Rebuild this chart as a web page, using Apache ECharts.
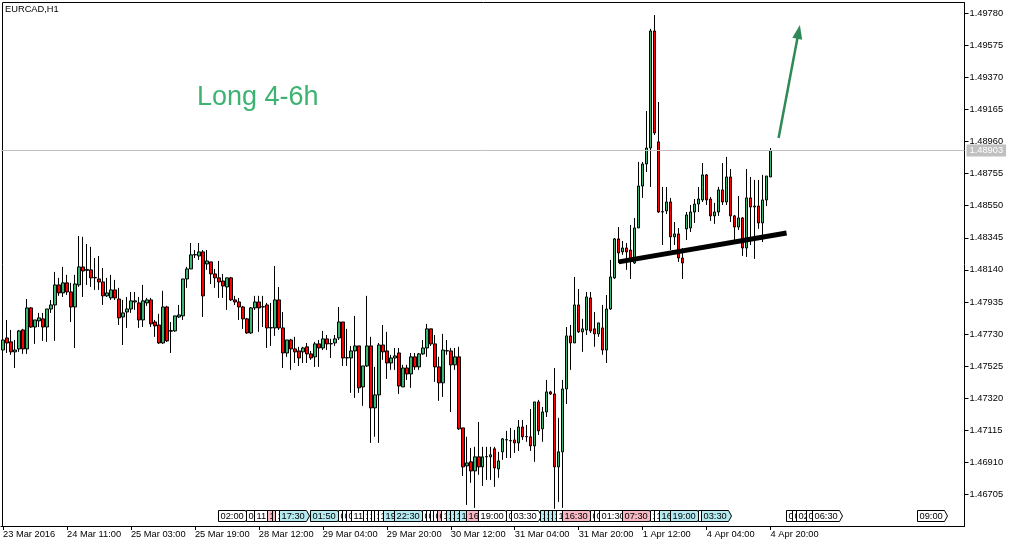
<!DOCTYPE html>
<html><head><meta charset="utf-8">
<script src="https://cdn.jsdelivr.net/npm/echarts@6/dist/echarts.min.js"></script>
<style>html,body{margin:0;padding:0;background:#fff;}#chart{width:1017px;height:547px;}</style>
</head><body><div id="chart"></div>
<script>
// ---- data ----
const symbolTitle = 'EURCAD,H1';
const timeLabels = ['23 Mar 2016','24 Mar 11:00','25 Mar 03:00','25 Mar 19:00','28 Mar 12:00','29 Mar 04:00','29 Mar 20:00','30 Mar 12:00','31 Mar 04:00','31 Mar 20:00','1 Apr 12:00','4 Apr 04:00','4 Apr 20:00'];
const priceTicks = [1.49780,1.49575,1.49370,1.49165,1.48960,1.48755,1.48550,1.48345,1.48140,1.47935,1.47730,1.47525,1.47320,1.47115,1.46910,1.46705];
const priceMin = 1.46503, priceMax = 1.49849;
const currentPrice = 1.48903;
// [open, close, low, high]
const bars = [
[1.47628,1.47692,1.47513,1.47737],[1.47705,1.47673,1.47609,1.47820],[1.47680,1.47616,1.47597,1.47756],[1.47616,1.47628,1.47513,1.47692],
[1.47635,1.47750,1.47616,1.47756],[1.47756,1.47635,1.47603,1.47763],[1.47635,1.47897,1.47603,1.47954],[1.47897,1.47775,1.47769,1.47903],
[1.47775,1.47820,1.47667,1.47820],[1.47814,1.47833,1.47775,1.47865],[1.47827,1.47775,1.47686,1.47865],[1.47775,1.47890,1.47680,1.47890],
[1.47890,1.47916,1.47865,1.47948],[1.47916,1.48044,1.47686,1.48127],[1.48044,1.47993,1.47974,1.48089],[1.47993,1.48057,1.47967,1.48159],
[1.48057,1.47999,1.47980,1.48108],[1.47999,1.47903,1.47807,1.48057],[1.47903,1.48050,1.47641,1.48108],[1.48044,1.48159,1.48031,1.48357],
[1.48159,1.48133,1.47967,1.48351],[1.48137,1.48143,1.48044,1.48306],[1.48140,1.48089,1.48031,1.48287],[1.48089,1.48092,1.48012,1.48216],
[1.48082,1.48063,1.48012,1.48229],[1.48063,1.47974,1.47916,1.48152],[1.47974,1.47993,1.47967,1.48089],[1.47961,1.48012,1.47948,1.48108],
[1.48012,1.47961,1.47948,1.48076],[1.47954,1.47833,1.47788,1.48025],[1.47839,1.47865,1.47660,1.47948],[1.47871,1.47890,1.47769,1.47967],
[1.47890,1.47942,1.47865,1.47999],[1.47935,1.47942,1.47884,1.47999],[1.47929,1.47820,1.47769,1.47967],[1.47820,1.47942,1.47775,1.48044],
[1.47929,1.47948,1.47910,1.47961],[1.47948,1.47795,1.47775,1.47961],[1.47807,1.47782,1.47712,1.47820],[1.47788,1.47673,1.47667,1.47859],
[1.47673,1.47903,1.47667,1.48006],[1.47903,1.47686,1.47680,1.47910],[1.47748,1.47752,1.47609,1.47807],[1.47750,1.47846,1.47744,1.47846],
[1.47839,1.47852,1.47833,1.47916],[1.47846,1.48082,1.47820,1.48082],[1.48082,1.48146,1.48025,1.48159],[1.48146,1.48236,1.48146,1.48312],
[1.48236,1.48238,1.48216,1.48267],[1.48229,1.48255,1.48204,1.48312],[1.48255,1.47974,1.47839,1.48267],[1.48178,1.48197,1.48140,1.48267],
[1.48191,1.48114,1.48050,1.48191],[1.48114,1.48089,1.48025,1.48146],[1.48089,1.48063,1.47961,1.48197],[1.48069,1.48037,1.47961,1.48114],
[1.48031,1.48089,1.47884,1.48089],[1.48089,1.47948,1.47942,1.48095],[1.47948,1.47935,1.47916,1.47974],[1.47935,1.47903,1.47820,1.47961],
[1.47903,1.47827,1.47763,1.47910],[1.47827,1.47737,1.47731,1.47833],[1.47737,1.47897,1.47731,1.47903],[1.47897,1.47935,1.47884,1.47974],
[1.47935,1.47897,1.47744,1.47974],[1.47903,1.47905,1.47775,1.47974],[1.47916,1.47769,1.47641,1.47929],[1.47769,1.47771,1.47654,1.47929],
[1.47769,1.47948,1.47718,1.48165],[1.47948,1.47769,1.47756,1.48031],[1.47769,1.47609,1.47513,1.47871],[1.47609,1.47692,1.47584,1.47692],
[1.47692,1.47635,1.47501,1.47699],[1.47635,1.47616,1.47545,1.47712],[1.47622,1.47577,1.47526,1.47648],[1.47616,1.47641,1.47545,1.47648],
[1.47648,1.47603,1.47545,1.47673],[1.47603,1.47577,1.47565,1.47622],[1.47584,1.47667,1.47520,1.47680],[1.47667,1.47641,1.47520,1.47692],
[1.47641,1.47699,1.47628,1.47750],[1.47699,1.47667,1.47628,1.47724],[1.47667,1.47669,1.47577,1.47699],[1.47673,1.47699,1.47654,1.47724],
[1.47705,1.47807,1.47692,1.47903],[1.47807,1.47577,1.47526,1.47807],[1.47577,1.47579,1.47526,1.47763],[1.47577,1.47622,1.47354,1.47654],
[1.47622,1.47654,1.47322,1.47846],[1.47654,1.47386,1.47354,1.47654],[1.47392,1.47526,1.47271,1.47526],[1.47526,1.47654,1.47520,1.47974],
[1.47654,1.47258,1.47034,1.47712],[1.47258,1.47341,1.47073,1.47520],[1.47341,1.47660,1.47034,1.47673],[1.47660,1.47616,1.47565,1.47788],
[1.47622,1.47545,1.47443,1.47744],[1.47545,1.47577,1.47501,1.47597],[1.47577,1.47590,1.47501,1.47641],[1.47609,1.47398,1.47347,1.47641],
[1.47392,1.47513,1.47392,1.47533],[1.47513,1.47475,1.47437,1.47533],[1.47475,1.47584,1.47386,1.47609],[1.47584,1.47520,1.47501,1.47609],
[1.47520,1.47603,1.47501,1.47609],[1.47603,1.47641,1.47597,1.47692],[1.47641,1.47763,1.47584,1.47795],[1.47763,1.47667,1.47654,1.47763],
[1.47667,1.47520,1.47424,1.47724],[1.47520,1.47418,1.47303,1.47584],[1.47418,1.47628,1.47328,1.47731],[1.47622,1.47624,1.47597,1.47692],
[1.47622,1.47533,1.47232,1.47641],[1.47533,1.47584,1.47501,1.47641],[1.47584,1.47124,1.47117,1.47648],[1.47130,1.46881,1.46823,1.47130],
[1.46887,1.46906,1.46638,1.47073],[1.46913,1.46855,1.46779,1.47002],[1.46855,1.46945,1.46619,1.47009],[1.46945,1.46881,1.46830,1.47168],
[1.46881,1.46945,1.46759,1.47009],[1.46945,1.46947,1.46798,1.47009],[1.46945,1.46958,1.46798,1.47009],[1.46996,1.46874,1.46753,1.47009],
[1.46868,1.46919,1.46811,1.46977],[1.46977,1.47060,1.46926,1.47066],[1.47053,1.47055,1.46938,1.47111],[1.47047,1.47049,1.46938,1.47130],
[1.47053,1.47034,1.46970,1.47117],[1.47034,1.47136,1.46983,1.47181],[1.47136,1.47073,1.47053,1.47181],[1.47073,1.47075,1.47041,1.47149],
[1.47073,1.47015,1.46983,1.47251],[1.47015,1.47296,1.46913,1.47296],[1.47296,1.47111,1.47085,1.47309],[1.47124,1.47232,1.47041,1.47264],
[1.47232,1.47360,1.47200,1.47437],[1.47360,1.47347,1.47341,1.47367],[1.47347,1.46881,1.46613,1.47513],[1.46881,1.46977,1.46657,1.47194],
[1.46977,1.47379,1.46619,1.47437],[1.47379,1.47718,1.47283,1.47775],[1.47718,1.47673,1.47501,1.47788],[1.47673,1.47916,1.47673,1.48095],
[1.47916,1.47744,1.47737,1.48018],[1.47744,1.47763,1.47616,1.47827],[1.47756,1.47967,1.47724,1.47999],[1.47961,1.47750,1.47737,1.47999],
[1.47763,1.47731,1.47648,1.47871],[1.47731,1.47801,1.47712,1.47801],[1.47769,1.47628,1.47597,1.47916],[1.47628,1.47890,1.47545,1.47980],
[1.47890,1.48095,1.47884,1.48204],[1.48089,1.48338,1.48082,1.48344],[1.48338,1.48248,1.48184,1.48414],[1.48255,1.48280,1.48236,1.48325],
[1.48280,1.48255,1.48140,1.48312],[1.48267,1.48204,1.48082,1.48427],[1.48184,1.48408,1.48178,1.48472],[1.48408,1.48676,1.48408,1.48830],
[1.48676,1.48817,1.48600,1.48830],[1.48817,1.48919,1.48766,1.49156],[1.48919,1.49667,1.48670,1.49680],[1.49667,1.49015,1.49002,1.49769],
[1.48958,1.48510,1.48504,1.49213],[1.48510,1.48512,1.48299,1.48670],[1.48517,1.48574,1.48497,1.48670],[1.48574,1.48351,1.48267,1.48600],
[1.48351,1.48370,1.48299,1.48446],[1.48370,1.48216,1.48191,1.48408],[1.48216,1.48184,1.48082,1.48280],[1.48402,1.48491,1.48331,1.48510],
[1.48408,1.48510,1.48382,1.48555],[1.48510,1.48561,1.48440,1.48593],[1.48561,1.48593,1.48510,1.48670],[1.48587,1.48747,1.48574,1.48823],
[1.48747,1.48587,1.48555,1.48753],[1.48593,1.48485,1.48453,1.48606],[1.48485,1.48510,1.48434,1.48568],[1.48510,1.48651,1.48485,1.48670],
[1.48651,1.48574,1.48555,1.48823],[1.48574,1.48734,1.48555,1.48862],[1.48734,1.48485,1.48446,1.48785],[1.48485,1.48414,1.48312,1.48491],
[1.48414,1.48472,1.48395,1.48612],[1.48472,1.48280,1.48229,1.48478],[1.48280,1.48600,1.48223,1.48785],[1.48600,1.48542,1.48299,1.48734],
[1.48542,1.48548,1.48210,1.48715],[1.48548,1.48440,1.48402,1.48715],[1.48440,1.48587,1.48318,1.48747],[1.48587,1.48740,1.48548,1.48740],
[1.48734,1.48903,1.48734,1.48919]
];
const futureSlots = 48;
// calendar event markers along the bottom (bar index position, text, kind)
const eventPos  = [53.95,60.9,63.0,66.05,67.3,68.1,69.1,76.9,83.8,84.8,85.9,87.05,90.2,91.2,92.1,93.0,94.0,95.1,97.95,105,106,106.9,107.8,108.8,109.6,111,112,113,114.1,116.05,119,125.9,127.1,134.4,135.4,136.4,137.4,138.4,140.05,146.9,147.9,149.1,154.95,161.9,162.9,164.1,166.9,173.9,174.8,195.9,197.5,198.5,201,202.4,228.8];
const eventText = ['02:00','03:00','11:00','12:30','13:00','14:00','17:30','01:50','08:00','08:30','09:00','11:00','12:00','12:30','13:00','13:30','14:00','19:00','22:30','05:00','06:00','07:00','08:00','09:00','10:00','11:00','12:00','13:00','14:00','16:00','19:00','02:00','03:30','10:00','11:00','12:00','13:00','14:00','16:30','00:00','00:30','01:30','07:30','14:00','15:00','16:00','19:00','03:00','03:30','00:00','01:00','02:00','05:00','06:30','09:00'];
const eventKind = ['w','w','w','p','p','w','c','c','w','w','w','w','w','w','w','w','w','c','c','w','w','w','w','p','w','c','c','c','c','p','w','w','w','c','c','c','c','w','p','w','w','w','p','w','w','c','c','w','c','w','w','w','w','w','w'];
// drawn objects
const trendLine = [[154, 1.48191], [196, 1.48376]];
const signalArrow = [[194, 1.48983], [199, 1.49661]];
const signalText = 'Long 4-6h';

// ---- chart ----
const FONT = '"Liberation Sans", Arial, sans-serif';
const bullColor = '#3cb371', bearColor = '#ff0000';
const kindColor = { w: '#ffffff', c: '#b4eaf0', p: '#f6b8c2' };
const totalSlots = bars.length + futureSlots;
const xCategories = [];
for (let i = 0; i < totalSlots; i++) xCategories.push(String(i));

const mctx = document.createElement('canvas').getContext('2d');
mctx.font = '9.3px ' + FONT;

function renderEvent(params, api) {
  const k = params.dataIndex;
  const pos = eventPos[k];
  const base = Math.floor(pos);
  const band = api.size([1, 0])[0];
  const x = Math.round(api.coord([base, priceMin])[0] - 0.5 + (pos - base) * band) + 0.5;
  const cs = params.coordSys;
  const bottom = cs.y + cs.height;
  const top = Math.floor(bottom - 16) + 0.5;
  const h = 11;
  const w = Math.ceil(mctx.measureText(eventText[k]).width) + 3;
  return {
    type: 'group',
    children: [
      { type: 'polygon', shape: { points: [[x, top], [x + w, top], [x + w + 3, top + h / 2], [x + w, top + h], [x, top + h]] },
        style: { fill: kindColor[eventKind[k]], stroke: '#000', lineWidth: 1 } },
      { type: 'text', style: { x: x + 2, y: top + h / 2 + 0.5, text: eventText[k], font: '9.3px ' + FONT, fill: '#000', verticalAlign: 'middle', align: 'left' } }
    ]
  };
}

const chart = echarts.init(document.getElementById('chart'), null, { renderer: 'canvas' });
chart.setOption({
  animation: false,
  backgroundColor: '#ffffff',
  grid: { left: 0, top: 2.5, width: 964.5, height: 523.5, containLabel: false },
  xAxis: {
    type: 'category', data: xCategories, boundaryGap: true,
    axisLine: { show: true, onZero: false, lineStyle: { color: '#000', width: 1 } },
    axisTick: { show: true, alignWithLabel: true, length: 4, interval: (i) => i % 16 === 0 && i < bars.length, lineStyle: { color: '#000' } },
    axisLabel: { show: true, interval: (i) => i % 16 === 0 && i < bars.length, formatter: (v, i) => timeLabels[Math.round(Number(v) / 16)],
      align: 'left', margin: 4, color: '#000', fontSize: 9.3, fontFamily: FONT },
    splitLine: { show: false }
  },
  yAxis: {
    type: 'value', position: 'right', min: priceMin, max: priceMax, scale: true,
    axisLine: { show: true, lineStyle: { color: '#000', width: 1 } },
    axisTick: { show: true, length: 4, customValues: priceTicks, lineStyle: { color: '#000' } },
    axisLabel: { show: true, customValues: priceTicks, formatter: (v) => Number(v).toFixed(5), margin: 5, color: '#000', fontSize: 9.3, fontFamily: FONT },
    splitLine: { show: false }
  },
  graphic: [
    { type: 'line', shape: { x1: 2.5, y1: 2.5, x2: 964.5, y2: 2.5 }, style: { stroke: '#000', lineWidth: 1 }, silent: true },
    { type: 'line', shape: { x1: 2.5, y1: 2.5, x2: 2.5, y2: 526 }, style: { stroke: '#000', lineWidth: 1 }, silent: true },
    { type: 'text', left: 5, top: 5, style: { text: symbolTitle, font: '9.3px ' + FONT, fill: '#000' }, silent: true },
    { type: 'text', left: 197, top: 84, style: { text: signalText, font: '27px ' + FONT, fill: '#3cb371' }, silent: true }
  ],
  series: [
    {
      type: 'candlestick', data: bars, barWidth: 3, clip: true, silent: true,
      itemStyle: { color: bullColor, color0: bearColor, borderColor: '#000', borderColor0: '#000', borderColorDoji: '#000', borderWidth: 1 },
      markLine: {
        silent: true, animation: false, symbol: ['none', 'none'], precision: 5,
        label: { show: false },
        data: [
          { yAxis: currentPrice, lineStyle: { color: '#c0c0c0', width: 1, type: 'solid' },
            label: { show: true, position: 'end', formatter: currentPrice.toFixed(5), color: '#ffffff', backgroundColor: '#c0c0c0',
              padding: [2, 3, 1, 3], distance: 2, fontSize: 9.3, fontFamily: FONT } },
          [ { coord: trendLine[0], lineStyle: { color: '#000', width: 5, type: 'solid' } }, { coord: trendLine[1] } ],
          [ { coord: signalArrow[0], symbol: 'none', lineStyle: { color: '#2e8b57', width: 2.5, type: 'solid' } },
            { coord: signalArrow[1], symbol: 'triangle', symbolSize: [10, 14], itemStyle: { color: '#2e8b57' } } ]
        ]
      }
    },
    {
      type: 'custom', renderItem: renderEvent, silent: true, clip: false, z: 4,
      data: eventPos.map((p) => [Math.floor(p), priceMin]),
      encode: { x: 0, y: 1 }
    }
  ]
});
</script></body></html>
